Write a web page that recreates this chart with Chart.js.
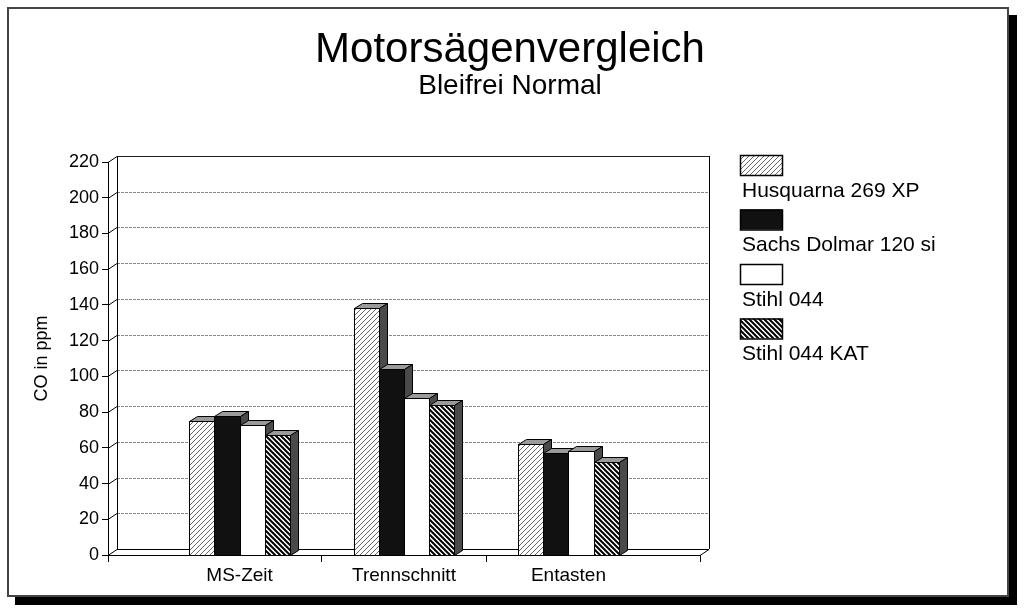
<!DOCTYPE html>
<html>
<head>
<meta charset="utf-8">
<script src="https://cdn.jsdelivr.net/npm/chart.js@4.4.1/dist/chart.umd.min.js"></script>
<style>
  html, body { margin: 0; padding: 0; background: #fff; }
</style>
</head>
<body>
<canvas id="chart" width="1024" height="610"></canvas>
<script>
// Daten
const categories = ['MS-Zeit', 'Trennschnitt', 'Entasten'];
const seriesNames = ['Husquarna 269 XP', 'Sachs Dolmar 120 si', 'Stihl 044', 'Stihl 044 KAT'];
const husqvarna = [75, 138, 62];
const sachsDolmar = [78, 104, 57];
const stihl044 = [73, 88, 58];
const stihl044Kat = [67, 84, 52];
const yTickValues = [0, 20, 40, 60, 80, 100, 120, 140, 160, 180, 200, 220];
const xTickMarks = [0.2, 1.5, 2.5, 3.8];

const FONT = "'Liberation Sans', Arial, Helvetica, sans-serif";
Chart.defaults.font.family = FONT;
Chart.defaults.color = '#000';

const canvas = document.getElementById('chart');
const ctx = canvas.getContext('2d');

// Schraffur-Muster
function hatch(dir, lineColor, lineWidth, gap) {
    const c = document.createElement('canvas');
    c.width = gap; c.height = gap;
    const g = c.getContext('2d');
    g.fillStyle = '#fff';
    g.fillRect(0, 0, gap, gap);
    g.strokeStyle = lineColor;
    g.lineWidth = lineWidth;
    g.beginPath();
    if (dir === '/') {
        g.moveTo(0, gap); g.lineTo(gap, 0);
        g.moveTo(-2, 2); g.lineTo(2, -2);
        g.moveTo(gap - 2, gap + 2); g.lineTo(gap + 2, gap - 2);
    } else {
        g.moveTo(0, 0); g.lineTo(gap, gap);
        g.moveTo(gap - 2, -2); g.lineTo(gap + 2, 2);
        g.moveTo(-2, gap - 2); g.lineTo(2, gap + 2);
    }
    g.stroke();
    return ctx.createPattern(c, 'repeat');
}

const fills = [
    hatch('/', '#666', 1, 5),
    '#111',
    '#fff',
    hatch('\\', '#000', 2, 5)
];
const seriesData = [husqvarna, sachsDolmar, stihl044, stihl044Kat];

const BAR_DX = 8, BAR_DY = 5;   // Tiefe der Säulen
const WALL_DX = 9, WALL_DY = 6; // Tiefe der Rückwand

// Rahmen, Titel, Legende
const framePlugin = {
    id: 'frame',
    beforeDraw(chart) {
        const c = chart.ctx;
        c.save();
        c.fillStyle = '#fff';
        c.fillRect(0, 0, chart.width, chart.height);
        c.fillStyle = '#000';
        c.fillRect(1008, 15, 9, 590);
        c.fillRect(15, 596, 1002, 9);
        c.strokeStyle = '#444';
        c.lineWidth = 2;
        c.strokeRect(8, 8, 1000, 588);
        c.restore();
    },
    afterDraw(chart) {
        const c = chart.ctx;
        c.save();
        c.fillStyle = '#000';
        c.textAlign = 'center';
        c.textBaseline = 'alphabetic';
        c.font = `42px ${FONT}`;
        c.fillText('Motorsägenvergleich', 510, 62);
        c.font = `28px ${FONT}`;
        c.fillText('Bleifrei Normal', 510, 94);

        // Legende: Kästchen über dem Text
        c.textAlign = 'left';
        c.textBaseline = 'middle';
        c.font = `21px ${FONT}`;
        chart.data.datasets.forEach((ds, i) => {
            const top = 155 + i * 54.5;
            c.fillStyle = ds.backgroundColor;
            c.fillRect(740, top, 42, 20);
            c.strokeStyle = '#000';
            c.lineWidth = 1.5;
            c.strokeRect(740.5, top + 0.5, 42, 20);
            c.fillStyle = '#000';
            c.fillText(ds.label, 742, top + 36);
        });
        c.restore();
    }
};

// Rückwand mit Gitterlinien und Boden
const wallPlugin = {
    id: 'wall',
    beforeDatasetsDraw(chart) {
        const c = chart.ctx;
        const y = chart.scales.y, x = chart.scales.x;
        const left = x.left, right = x.right;
        const top = y.getPixelForValue(y.max), bottom = y.getPixelForValue(y.min);
        c.save();
        c.lineWidth = 1;
        // Gitterlinien
        yTickValues.forEach(v => {
            const py = Math.round(y.getPixelForValue(v)) + 0.5;
            c.strokeStyle = '#000';
            c.setLineDash([]);
            c.beginPath();
            c.moveTo(left, py);
            c.lineTo(left + WALL_DX, py - WALL_DY);
            c.stroke();
            if (v !== y.min) {
                c.strokeStyle = v === y.max ? '#222' : '#888';
                c.setLineDash(v === y.max ? [] : [3, 1]);
                c.beginPath();
                c.moveTo(left + WALL_DX, py - WALL_DY);
                c.lineTo(right + WALL_DX, py - WALL_DY);
                c.stroke();
            }
        });
        c.setLineDash([]);
        c.strokeStyle = '#000';
        c.beginPath();
        // hintere senkrechte Achse
        c.moveTo(left + WALL_DX + 0.5, top - WALL_DY);
        c.lineTo(left + WALL_DX + 0.5, bottom - WALL_DY);
        // rechte Kante der Rückwand
        c.moveTo(right + WALL_DX + 0.5, top - WALL_DY);
        c.lineTo(right + WALL_DX + 0.5, bottom - WALL_DY);
        // Boden
        c.moveTo(left + WALL_DX, bottom - WALL_DY + 0.5);
        c.lineTo(right + WALL_DX, bottom - WALL_DY + 0.5);
        c.moveTo(right, bottom + 0.5);
        c.lineTo(right + WALL_DX, bottom - WALL_DY + 0.5);
        c.stroke();
        c.restore();
    }
};

// Säulen in 3D, von links nach rechts gezeichnet
const bars3dPlugin = {
    id: 'bars3d',
    afterDatasetsDraw(chart) {
        const c = chart.ctx;
        c.save();
        c.lineWidth = 1;
        c.strokeStyle = '#000';
        categories.forEach((cat, j) => {
            chart.data.datasets.forEach((ds, i) => {
                const el = chart.getDatasetMeta(i).data[j];
                const { x, y, base, width } = el.getProps(['x', 'y', 'base', 'width'], true);
                const l = Math.round(x - width / 2) + 0.5, r = Math.round(x + width / 2) + 0.5;
                const t = Math.round(y) + 0.5, b = Math.round(base) + 0.5;
                c.fillStyle = ds.backgroundColor;
                c.fillRect(l, t, r - l, b - t);
                c.strokeRect(l, t, r - l, b - t);
                // Oberseite
                c.beginPath();
                c.moveTo(l, t);
                c.lineTo(l + BAR_DX, t - BAR_DY);
                c.lineTo(r + BAR_DX, t - BAR_DY);
                c.lineTo(r, t);
                c.closePath();
                c.fillStyle = '#9a9a9a';
                c.fill();
                c.stroke();
                // Seite
                c.beginPath();
                c.moveTo(r, t);
                c.lineTo(r + BAR_DX, t - BAR_DY);
                c.lineTo(r + BAR_DX, b - BAR_DY);
                c.lineTo(r, b);
                c.closePath();
                c.fillStyle = '#4a4a4a';
                c.fill();
                c.stroke();
            });
        });
        c.restore();
    }
};

const chart = new Chart(ctx, {
    type: 'bar',
    data: {
        datasets: seriesNames.map((name, i) => ({
            label: name,
            data: seriesData[i].map((v, j) => ({ x: j + 1, y: v })),
            backgroundColor: fills[i],
            borderColor: '#000',
            borderWidth: 1
        }))
    },
    options: {
        responsive: false,
        animation: false,
        events: [],
        // die Ticks liegen im Abstand 0.5, daher > 1
        categoryPercentage: 1.22,
        barPercentage: 1,
        layout: { padding: { left: 20, right: 324, top: 162, bottom: 25 } },
        plugins: {
            legend: { display: false },
            title: { display: false },
            tooltip: { enabled: false }
        },
        scales: {
            x: {
                type: 'linear',
                min: 0.2,
                max: 3.8,
                offset: false,
                afterBuildTicks: (scale) => {
                    scale.ticks = xTickMarks.concat(categories.map((c, i) => i + 1))
                        .sort((a, b) => a - b)
                        .map(v => ({ value: v }));
                },
                afterFit: (scale) => { scale.height = 30; },
                ticks: {
                    autoSkip: false,
                    maxRotation: 0,
                    padding: 2,
                    font: { size: 19 },
                    color: '#000',
                    callback: (value) => Number.isInteger(value) ? categories[value - 1] : ''
                },
                grid: {
                    offset: false,
                    drawOnChartArea: false,
                    tickLength: 7,
                    tickColor: (c) => (c.tick && Number.isInteger(c.tick.value)) ? 'rgba(0,0,0,0)' : '#000',
                    color: '#000'
                },
                border: { display: true, color: '#000', width: 1 }
            },
            y: {
                min: 0,
                max: 220,
                afterBuildTicks: (scale) => {
                    scale.ticks = yTickValues.map(v => ({ value: v }));
                },
                afterFit: (scale) => { scale.width = 88; },
                ticks: {
                    padding: 3,
                    font: { size: 18 },
                    color: '#000'
                },
                grid: {
                    drawOnChartArea: false,
                    tickLength: 6,
                    tickColor: '#000',
                    color: '#000'
                },
                border: { display: true, color: '#000', width: 1 },
                title: {
                    display: true,
                    text: 'CO in ppm',
                    font: { size: 18 },
                    color: '#000',
                    padding: { top: 11, bottom: 0 }
                }
            }
        }
    },
    plugins: [framePlugin, wallPlugin, bars3dPlugin]
});
</script>
</body>
</html>
